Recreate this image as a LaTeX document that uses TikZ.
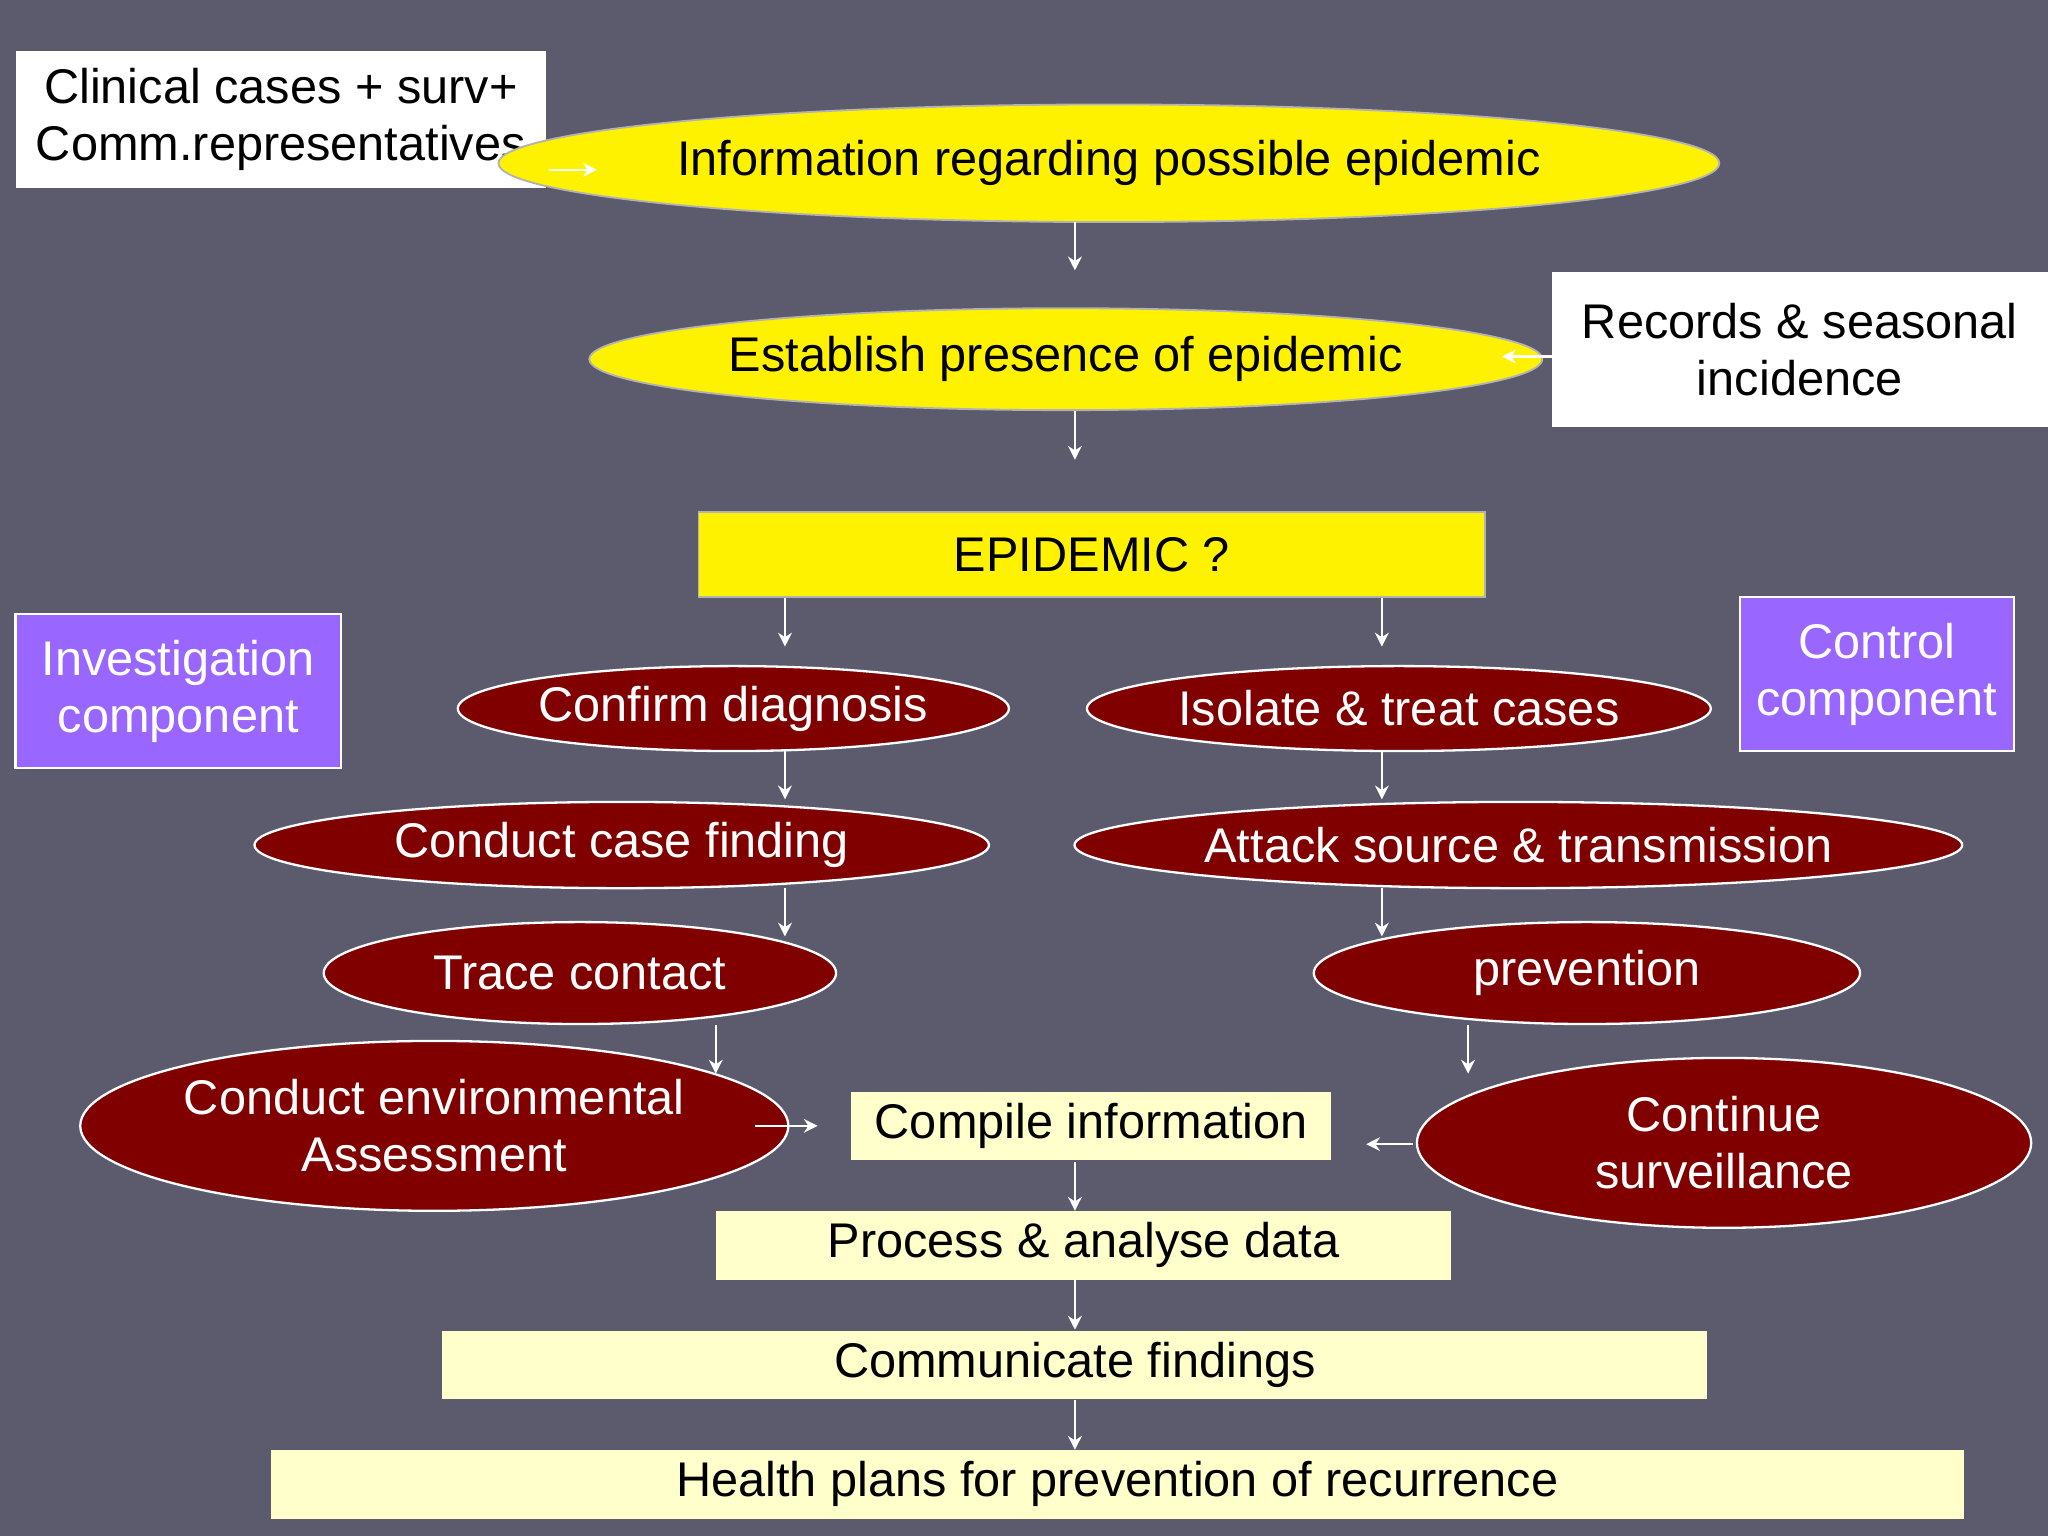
\documentclass[tikz,border=0pt]{standalone}
\usetikzlibrary{shapes.geometric,arrows.meta}
\usepackage{fontspec}
\setmainfont{Liberation Sans}
\definecolor{bg}{HTML}{5B5B6D}
\definecolor{dred}{HTML}{800000}
\definecolor{lyel}{HTML}{FFFFCC}
\definecolor{purp}{HTML}{9966FF}
\begin{document}
\begin{tikzpicture}[x=0.01cm,y=-0.01cm,font=\fontsize{10.6}{12.4}\selectfont]
\tikzset{
  box/.style={rectangle,fill=white,text=black,align=center,inner sep=0pt},
  yell/.style={ellipse,fill=yellow,draw=gray!60,line width=0.4pt,inner sep=0pt},
  rell/.style={ellipse,fill=dred,draw=white,line width=0.5pt,text=white,align=center,inner sep=0pt},
  comp/.style={rectangle,fill=purp,draw=white,line width=0.5pt,text=white,align=center,inner sep=0pt},
  pale/.style={rectangle,fill=lyel,inner sep=0pt},
  arr/.style={draw=white,line width=0.5pt,-{Stealth[length=3pt,width=3pt]}}
}
\fill[bg] (0,0) rectangle (1568,1176);
\useasboundingbox (0,0) rectangle (1568,1176);

\node[box,minimum width=4.06cm,minimum height=1.05cm] (clin) at (215,91.5) {Clinical cases + surv+\\Comm.representatives};
\node[yell,minimum width=7.58cm,minimum height=0.9cm] (info) at (849,125) {Information regarding possible epidemic};
\node[yell,minimum width=6.41cm,minimum height=0.78cm] (est) at (816,275) {Establish presence of epidemic};
\node[box,minimum width=3.8cm,minimum height=1.19cm] (rec) at (1378,267.5) {Records \& seasonal\\incidence};
\node[rectangle,fill=yellow,draw=gray!60,minimum width=6.02cm,minimum height=0.65cm] (epi) at (836,424.5) {EPIDEMIC ?};
\node[comp,minimum width=2.49cm,minimum height=1.18cm] (inv) at (136.5,529) {Investigation\\component};
\node[comp,minimum width=2.1cm,minimum height=1.18cm] (ctrl) at (1437,516) {Control\\component};
\node[rell,minimum width=3.91cm,minimum height=0.65cm] (conf) at (561.5,542.5) {Confirm diagnosis};
\node[rell,minimum width=3.92cm,minimum height=0.65cm] (iso) at (1071,542.5) {Isolate \& treat cases};
\node[rell,minimum width=5.62cm,minimum height=0.66cm] (case) at (476,647) {Conduct case finding};
\node[rell,minimum width=6.01cm,minimum height=0.66cm] (att) at (1162.5,647) {Attack source \& transmission};
\node[rell,minimum width=3.92cm,minimum height=0.78cm] (trace) at (444,745) {Trace contact};
\node[rell,minimum width=4.18cm,minimum height=0.78cm] (prev) at (1215,745) {prevention};
\node[rell,minimum width=4.83cm,minimum height=1.3cm] (env) at (332.5,862) {Conduct environmental\\Assessment};
\node[rell,minimum width=4.7cm,minimum height=1.3cm] (cont) at (1320,875) {Continue\\surveillance};
\node[pale,minimum width=3.67cm,minimum height=0.52cm] (comp) at (835.5,862) {Compile information};
\node[pale,minimum width=5.63cm,minimum height=0.53cm] (proc) at (829.5,953.5) {Process \& analyse data};
\node[pale,minimum width=9.68cm,minimum height=0.52cm] (comm) at (823,1045) {Communicate findings};
\node[pale,minimum width=12.95cm,minimum height=0.53cm] (health) at (855.5,1136.5) {Health plans for prevention of recurrence};

% arrows (floating, as in the slide)
\foreach \x/\a/\b in {823/170/207, 823/315/352, 601/458/495, 1058/458/495,
  601/575/612, 601/680/717, 548/785/822, 1058/575/612, 1058/680/717,
  1124/785/822, 823/890/927, 823/980/1018, 823/1072/1110}
  \draw[arr] (\x,\a) coordinate (s) -- (\x,\b) coordinate (t);
\draw[arr] (420,130) coordinate (c1) -- (457,130) coordinate (c2);
\draw[arr] (1188,273) coordinate (r1) -- (1150,273) coordinate (r2);
\draw[arr] (578,862) coordinate (e1) -- (626,862) coordinate (e2);
\draw[arr] (1082,876) coordinate (k1) -- (1046,876) coordinate (k2);
\end{tikzpicture}
\end{document}
